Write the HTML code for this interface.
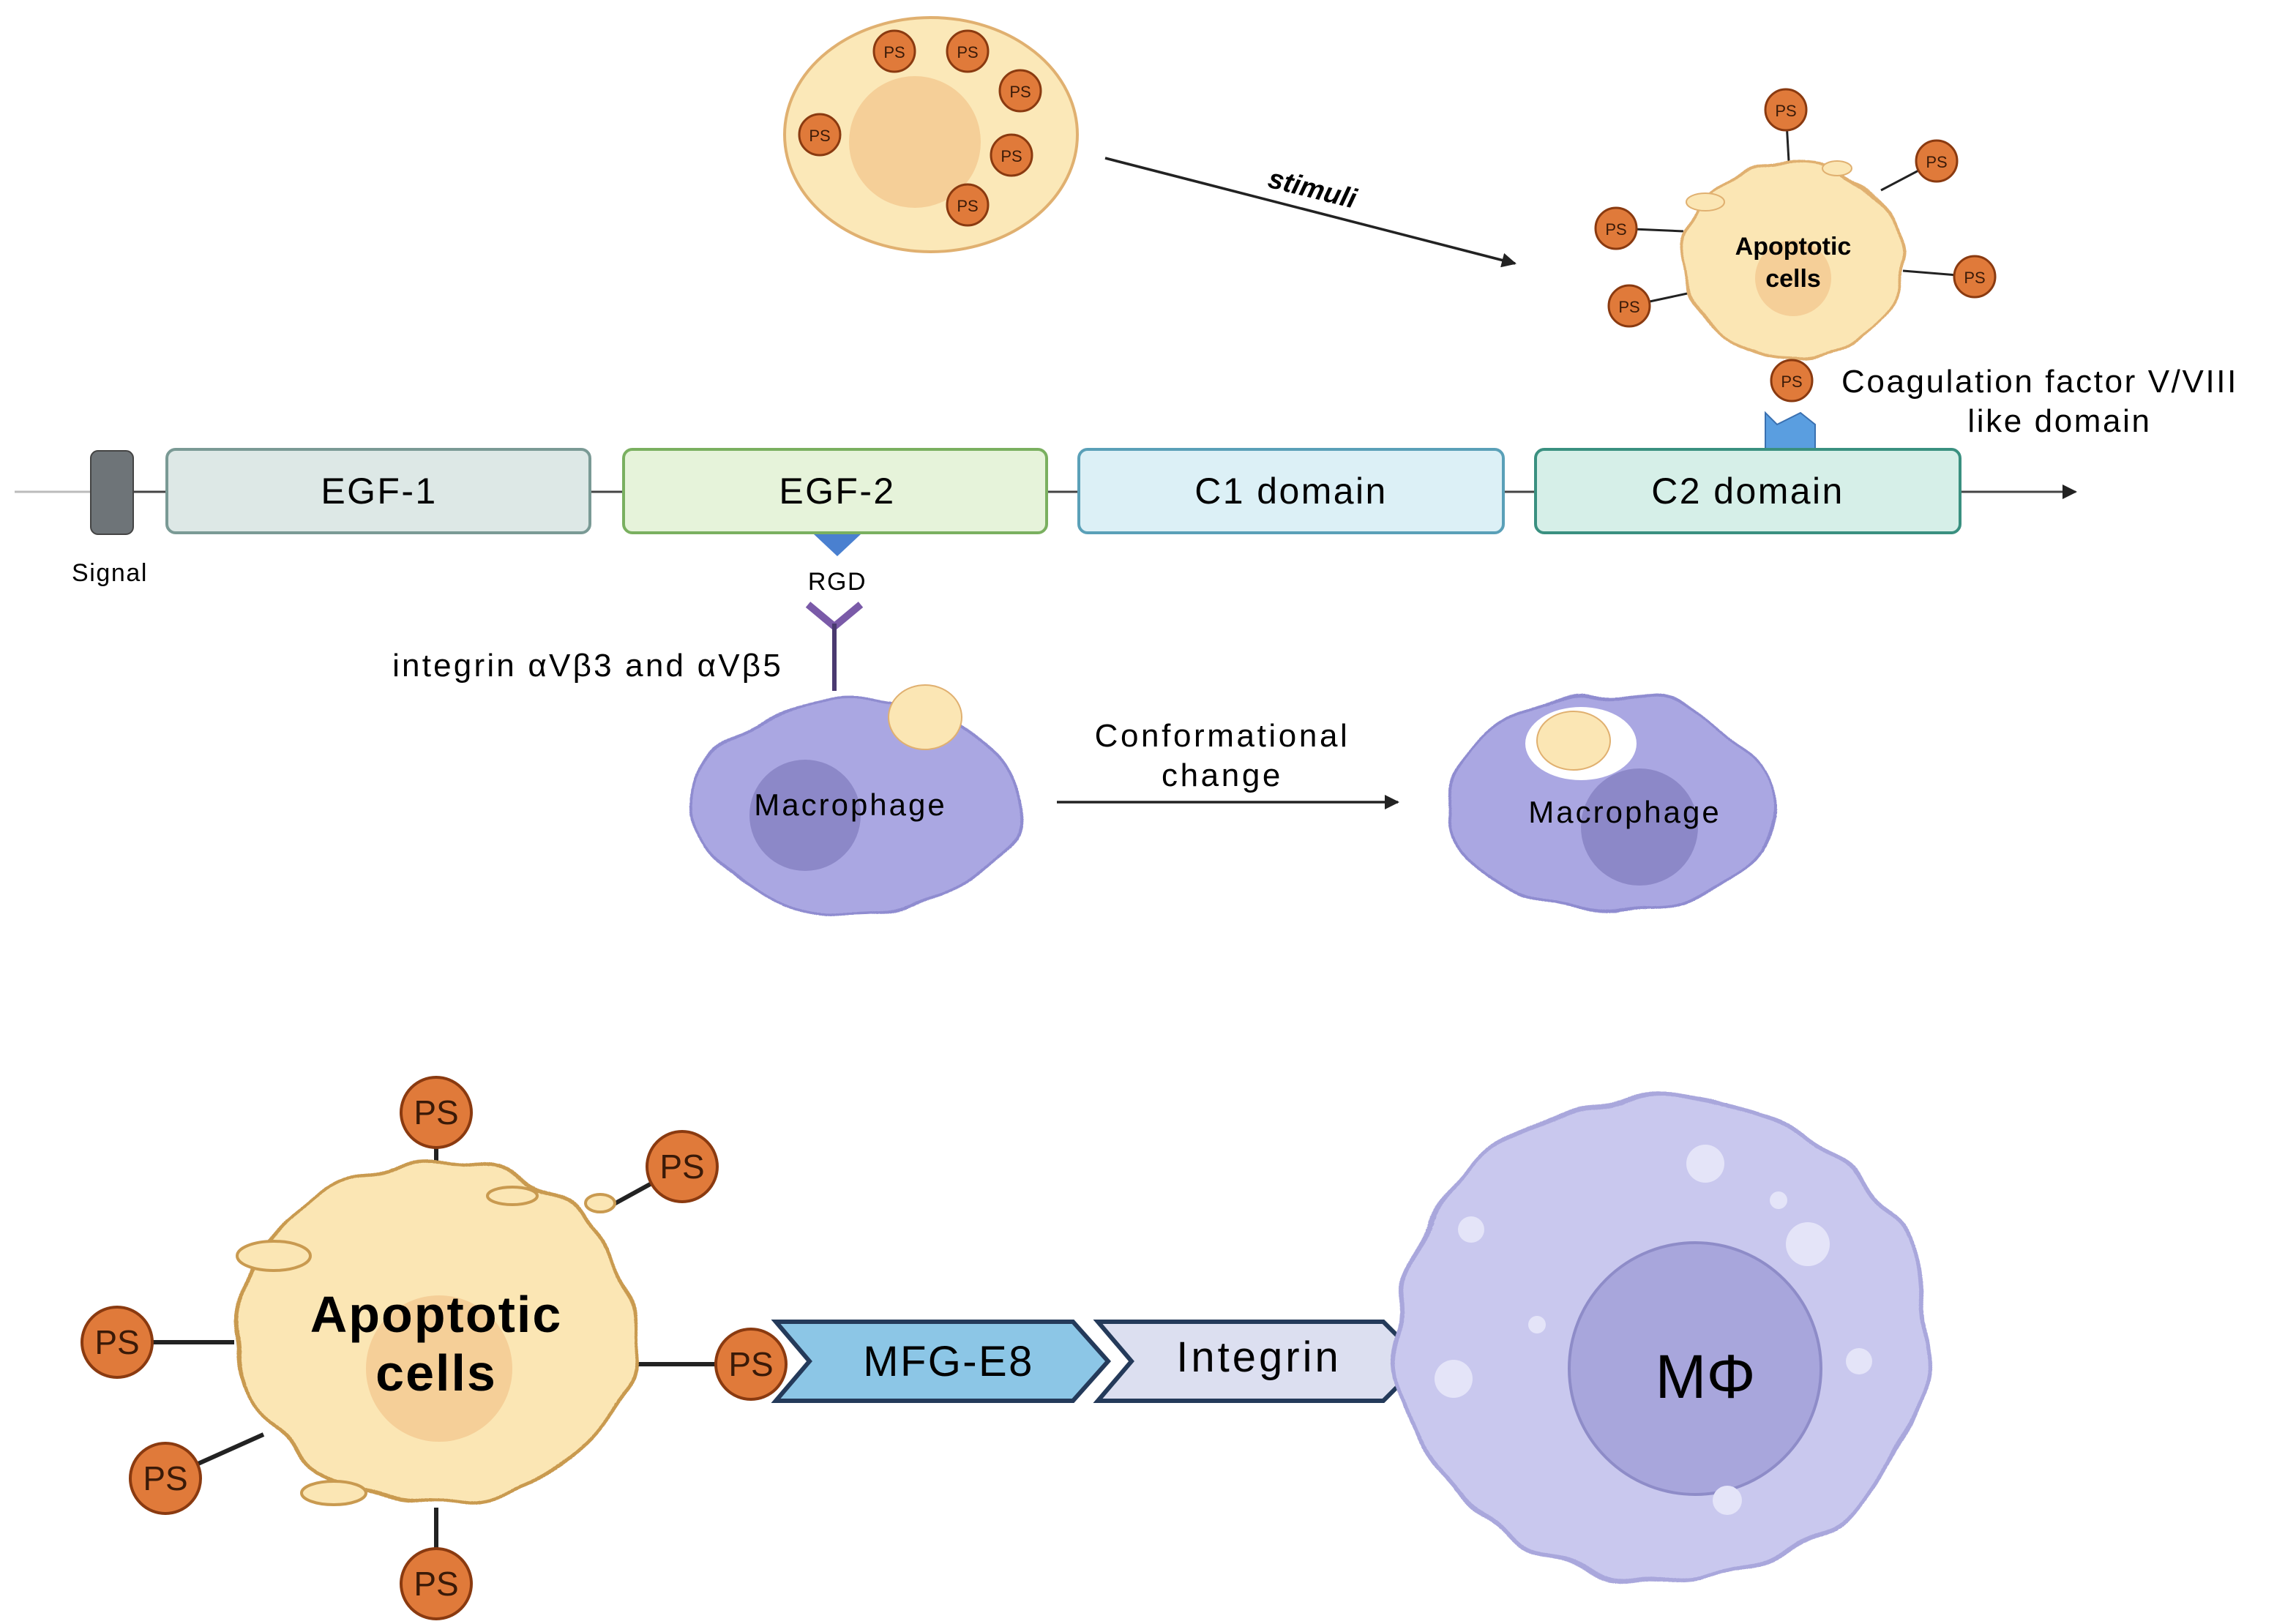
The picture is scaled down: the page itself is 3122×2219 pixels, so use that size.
<!DOCTYPE html>
<html><head><meta charset="utf-8"><style>
html,body{margin:0;padding:0;background:#fff;}
svg{display:block;}
text{font-family:"Liberation Sans",sans-serif;}
</style></head><body>
<svg width="3122" height="2219" viewBox="0 0 1561 1109.5" xmlns="http://www.w3.org/2000/svg">
<defs>
<marker id="ah" markerWidth="10" markerHeight="10" refX="9" refY="5" orient="auto" markerUnits="userSpaceOnUse"><path d="M0,0 L10,5 L0,10 Z" fill="#222"/></marker>
<g id="ps"><circle r="14" fill="#e07a3a" stroke="#8a3a10" stroke-width="1.5"/><text y="4.5" text-anchor="middle" font-size="11" fill="#3a1a08">PS</text></g>
<g id="psb"><circle r="24" fill="#e07a3a" stroke="#8a3a10" stroke-width="2"/><text y="8" text-anchor="middle" font-size="23" fill="#3a1a08">PS</text></g>
<filter id="wav" x="-10%" y="-10%" width="120%" height="120%"><feTurbulence type="fractalNoise" baseFrequency="0.025" numOctaves="1" seed="3"/><feDisplacementMap in="SourceGraphic" scale="18" xChannelSelector="R" yChannelSelector="G"/></filter>
<filter id="wavs" x="-10%" y="-10%" width="120%" height="120%"><feTurbulence type="fractalNoise" baseFrequency="0.04" numOctaves="1" seed="5"/><feDisplacementMap in="SourceGraphic" scale="12" xChannelSelector="R" yChannelSelector="G"/></filter>
</defs>
<rect width="1561" height="1110" fill="#fff"/>

<!-- top cell -->
<ellipse cx="636" cy="92" rx="100" ry="80" fill="#fbe8b8" stroke="#e0b070" stroke-width="2"/>
<circle cx="625" cy="97" r="45" fill="#f5cf98"/>
<use href="#ps" x="611" y="35"/><use href="#ps" x="661" y="35"/><use href="#ps" x="697" y="62"/>
<use href="#ps" x="560" y="92"/><use href="#ps" x="691" y="106"/><use href="#ps" x="661" y="140"/>

<line x1="755" y1="108" x2="1035" y2="180" stroke="#222" stroke-width="1.8" marker-end="url(#ah)"/>
<text x="895" y="135" font-size="19" font-weight="bold" font-style="italic" text-anchor="middle" transform="rotate(14 895 135)">stimuli</text>

<!-- top right apoptotic -->
<g stroke="#222" stroke-width="1.5">
<line x1="1220" y1="75" x2="1222" y2="110"/><line x1="1323" y1="110" x2="1285" y2="130"/>
<line x1="1104" y1="156" x2="1150" y2="158"/><line x1="1349" y1="189" x2="1300" y2="185"/>
<line x1="1113" y1="209" x2="1155" y2="200"/><line x1="1224" y1="260" x2="1224" y2="240"/>
</g>
<g filter="url(#wavs)">
<ellipse cx="1225" cy="178" rx="76" ry="66" fill="#fbe6b4" stroke="#e0b070" stroke-width="2"/>
</g>
<circle cx="1225" cy="190" r="26" fill="#f5cf98"/>
<ellipse cx="1165" cy="138" rx="13" ry="6" fill="#fbe6b4" stroke="#e0b070"/>
<ellipse cx="1255" cy="115" rx="10" ry="5" fill="#fbe6b4" stroke="#e0b070"/>
<text x="1225" y="174" font-size="17" font-weight="bold" text-anchor="middle">Apoptotic</text>
<text x="1225" y="196" font-size="17" font-weight="bold" text-anchor="middle">cells</text>
<use href="#ps" x="1220" y="75"/><use href="#ps" x="1323" y="110"/><use href="#ps" x="1104" y="156"/>
<use href="#ps" x="1349" y="189"/><use href="#ps" x="1113" y="209"/><use href="#ps" x="1224" y="260"/>
<path d="M1206,307 L1206,282 L1214,290 L1230,282 L1240,290 L1240,307 Z" fill="#5a9ee0" stroke="#3a70b0"/>
<text x="1258" y="268" font-size="22" letter-spacing="1.3">Coagulation factor V/VIII</text>
<text x="1407" y="295" font-size="22" letter-spacing="1.3" text-anchor="middle">like domain</text>

<!-- domain line -->
<line x1="10" y1="336" x2="1418" y2="336" stroke="#bbb" stroke-width="1.5"/>
<line x1="91" y1="336" x2="1418" y2="336" stroke="#444" stroke-width="1.5" marker-end="url(#ah)"/>
<rect x="62" y="308" width="29" height="57" rx="5" fill="#6e7478" stroke="#444"/>
<text x="75" y="397" font-size="17" letter-spacing="0.8" text-anchor="middle">Signal</text>
<rect x="114" y="307" width="289" height="57" rx="6" fill="#dde8e6" stroke="#7a9a95" stroke-width="2"/>
<text x="259" y="344" font-size="25" letter-spacing="1.2" text-anchor="middle">EGF-1</text>
<rect x="426" y="307" width="289" height="57" rx="6" fill="#e6f3da" stroke="#7ab060" stroke-width="2"/>
<text x="572" y="344" font-size="25" letter-spacing="1.2" text-anchor="middle">EGF-2</text>
<rect x="737" y="307" width="290" height="57" rx="6" fill="#dcf0f6" stroke="#5aa0b8" stroke-width="2"/>
<text x="882" y="344" font-size="25" letter-spacing="1.2" text-anchor="middle">C1 domain</text>
<rect x="1049" y="307" width="290" height="57" rx="6" fill="#d6efe8" stroke="#3a9080" stroke-width="2"/>
<text x="1194" y="344" font-size="25" letter-spacing="1.2" text-anchor="middle">C2 domain</text>

<path d="M556,365 L588,365 L572,380 Z" fill="#4a80d0"/>
<text x="572" y="403" font-size="17" letter-spacing="0.8" text-anchor="middle">RGD</text>
<path d="M552,413 L570,428 L588,413" fill="none" stroke="#7a5aa8" stroke-width="5"/>
<line x1="570" y1="426" x2="570" y2="472" stroke="#4a3a70" stroke-width="3"/>
<text x="535" y="462" font-size="22" letter-spacing="1.6" text-anchor="end">integrin αVβ3 and αVβ5</text>

<!-- macrophage 1 -->
<g filter="url(#wav)">
<ellipse cx="583" cy="550" rx="112" ry="72" fill="#aaa7e2" stroke="#8f8cd0" stroke-width="2"/>
</g>
<circle cx="550" cy="557" r="38" fill="#8c88c8"/>
<ellipse cx="632" cy="490" rx="25" ry="22" fill="#fbe6b4" stroke="#e0b070"/>
<text x="581" y="557" font-size="21" letter-spacing="1.5" text-anchor="middle">Macrophage</text>
<line x1="722" y1="548" x2="955" y2="548" stroke="#222" stroke-width="1.8" marker-end="url(#ah)"/>
<text x="835" y="510" font-size="22" letter-spacing="1.8" text-anchor="middle">Conformational</text>
<text x="835" y="537" font-size="22" letter-spacing="1.8" text-anchor="middle">change</text>

<!-- macrophage 2 -->
<g filter="url(#wav)">
<ellipse cx="1100" cy="550" rx="110" ry="75" fill="#aaa7e2" stroke="#8f8cd0" stroke-width="2"/>
</g>
<circle cx="1120" cy="565" r="40" fill="#8c88c8"/>
<ellipse cx="1080" cy="508" rx="38" ry="25" fill="#fff"/>
<ellipse cx="1075" cy="506" rx="25" ry="20" fill="#fbe6b4" stroke="#e0b070"/>
<text x="1110" y="562" font-size="21" letter-spacing="1.5" text-anchor="middle">Macrophage</text>

<!-- bottom apoptotic -->
<g stroke="#222" stroke-width="3">
<line x1="298" y1="760" x2="298" y2="800"/><line x1="466" y1="797" x2="415" y2="825"/>
<line x1="80" y1="917" x2="160" y2="917"/><line x1="113" y1="1010" x2="180" y2="980"/>
<line x1="298" y1="1082" x2="298" y2="1030"/><line x1="513" y1="932" x2="435" y2="932"/>
</g>
<g filter="url(#wav)">
<ellipse cx="298" cy="910" rx="136" ry="116" fill="#fbe6b4" stroke="#c99a50" stroke-width="2.5"/>
</g>
<circle cx="300" cy="935" r="50" fill="#f5cf98"/>
<ellipse cx="187" cy="858" rx="25" ry="10" fill="#fbe6b4" stroke="#c99a50" stroke-width="2"/>
<ellipse cx="350" cy="817" rx="17" ry="6" fill="#fbe6b4" stroke="#c99a50" stroke-width="2"/>
<ellipse cx="410" cy="822" rx="10" ry="6" fill="#fbe6b4" stroke="#c99a50" stroke-width="2"/>
<ellipse cx="228" cy="1020" rx="22" ry="8" fill="#fbe6b4" stroke="#c99a50" stroke-width="2"/>
<text x="298" y="910" font-size="35" letter-spacing="1" font-weight="bold" text-anchor="middle">Apoptotic</text>
<text x="298" y="950" font-size="35" letter-spacing="1" font-weight="bold" text-anchor="middle">cells</text>
<use href="#psb" x="298" y="760"/><use href="#psb" x="466" y="797"/><use href="#psb" x="80" y="917"/>
<use href="#psb" x="113" y="1010"/><use href="#psb" x="298" y="1082"/><use href="#psb" x="513" y="932"/>

<path d="M530,903 L733,903 L757,930 L733,957 L530,957 L553,930 Z" fill="#8cc6e6" stroke="#243a5a" stroke-width="3"/>
<text x="648" y="940" font-size="29" letter-spacing="1.2" text-anchor="middle">MFG-E8</text>
<path d="M750,903 L945,903 L972,930 L945,957 L750,957 L773,930 Z" fill="#dcdff0" stroke="#243a5a" stroke-width="3"/>
<text x="860" y="937" font-size="29" letter-spacing="2" text-anchor="middle">Integrin</text>

<!-- big macrophage -->
<g filter="url(#wav)">
<ellipse cx="1135" cy="915" rx="182" ry="165" fill="#c9c8ee" stroke="#a9a7dc" stroke-width="3"/>
</g>
<circle cx="1158" cy="935" r="86" fill="#a8a6dc" stroke="#8e8cc8" stroke-width="2"/>
<g fill="#e4e4f8">
<circle cx="1165" cy="795" r="13"/><circle cx="1235" cy="850" r="15"/><circle cx="993" cy="942" r="13"/>
<circle cx="1005" cy="840" r="9"/><circle cx="1180" cy="1025" r="10"/><circle cx="1270" cy="930" r="9"/>
<circle cx="1050" cy="905" r="6"/><circle cx="1215" cy="820" r="6"/>
</g>
<text x="1165" y="955" font-size="42" text-anchor="middle">MΦ</text>
</svg>
</body></html>
